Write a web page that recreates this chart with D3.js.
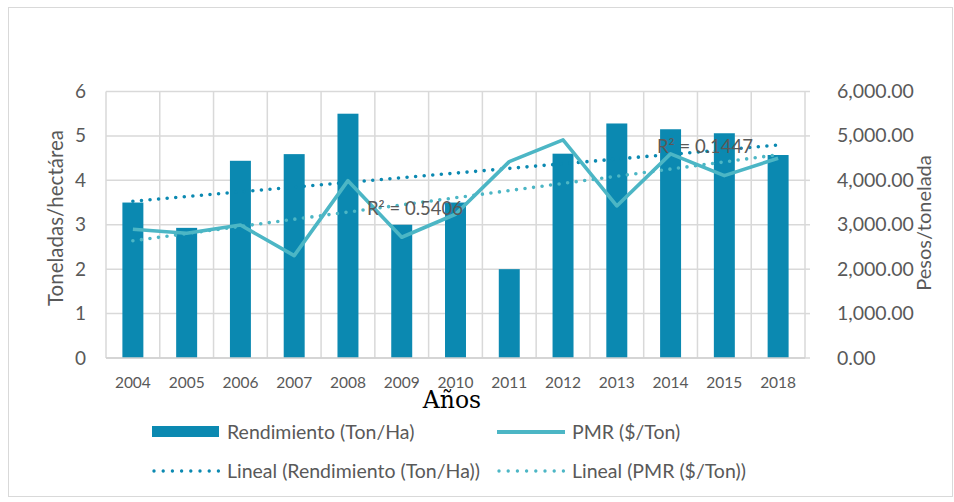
<!DOCTYPE html>
<html><head><meta charset="utf-8">
<script src="https://cdn.jsdelivr.net/npm/d3@7"></script>
<style>body{margin:0;background:#fff;}svg{display:block;}text{font-family:Lato,"Open Sans",sans-serif;fill:#595959;}</style>
</head><body><svg id="c" width="954" height="502"></svg>
<script>
const years = ["2004","2005","2006","2007","2008","2009","2010","2011","2012","2013","2014","2015","2018"];
const rendimiento = [3.5,2.93,4.44,4.59,5.5,3.0,3.5,2.0,4.6,5.28,5.15,5.06,4.57];
const pmr = [2898,2808,2995,2304,3993,2718,3236,4421,4910,3423,4595,4106,4497];
const leftTicks = [0,1,2,3,4,5,6];
const rightTicks = [0,1000,2000,3000,4000,5000,6000];
const r2Labels = ["R² = 0.5406","R² = 0.1447"];

const svg = d3.select("#c");
const m = {l:106, r:805, t:91.5, b:358};
svg.append("rect").attr("x",8.5).attr("y",7.5).attr("width",944).attr("height",489).attr("fill","#fff").attr("stroke","#d9d9d9");

const x = d3.scaleBand().domain(years).range([m.l,m.r]).paddingInner(0.61).paddingOuter(0.305);
const xb = d3.scaleBand().domain(years).range([m.l,m.r]);
const yL = d3.scaleLinear().domain([0,6]).range([m.b,m.t]);
const yR = d3.scaleLinear().domain([0,6000]).range([m.b,m.t]);

const g = svg.append("g");
g.selectAll(".hg").data(leftTicks).join("line").attr("x1",m.l).attr("x2",m.r).attr("y1",d=>yL(d)).attr("y2",d=>yL(d)).attr("stroke","#d9d9d9").attr("stroke-width",1.5);
const edges = years.map(d=>xb(d)).concat([m.r]);
g.selectAll(".vg").data(edges).join("line").attr("x1",d=>d).attr("x2",d=>d).attr("y1",m.t).attr("y2",m.b).attr("stroke","#d9d9d9").attr("stroke-width",1.5);
g.selectAll(".rt").data(rightTicks).join("line").attr("x1",m.r).attr("x2",m.r+5).attr("y1",d=>yR(d)).attr("y2",d=>yR(d)).attr("stroke","#d9d9d9").attr("stroke-width",1.5);

g.selectAll(".bar").data(rendimiento).join("rect")
 .attr("x",(d,i)=>x(years[i])).attr("width",x.bandwidth())
 .attr("y",d=>yL(d)).attr("height",d=>m.b-yL(d)).attr("fill","#0b89b1");

function reg(vals){const xs=vals.map((_,i)=>i+1);const mx=d3.mean(xs),my=d3.mean(vals);
 let sxy=0,sxx=0;xs.forEach((xi,i)=>{sxy+=(xi-mx)*(vals[i]-my);sxx+=(xi-mx)**2;});const b=sxy/sxx;return xs.map(xi=>my+b*(xi-mx));}
const trendR = reg(rendimiento), trendP = reg(pmr);
const cx = (d,i)=>xb(years[i])+xb.bandwidth()/2;

g.append("path").datum(trendP).attr("d",d3.line().x(cx).y(d=>yR(d))).attr("fill","none").attr("stroke","#4cb6c5").attr("stroke-width",3.6).attr("stroke-linecap","round").attr("stroke-dasharray","0 8.6");
g.append("path").datum(trendR).attr("d",d3.line().x(cx).y(d=>yL(d))).attr("fill","none").attr("stroke","#0b89b1").attr("stroke-width",3.6).attr("stroke-linecap","round").attr("stroke-dasharray","0 8.6");
g.append("path").datum(pmr).attr("d",d3.line().x(cx).y(d=>yR(d))).attr("fill","none").attr("stroke","#4cb6c5").attr("stroke-width",3.6).attr("stroke-linejoin","round");

g.append("line").attr("x1",m.l).attr("x2",m.r).attr("y1",m.b).attr("y2",m.b).attr("stroke","#d0d0d0").attr("stroke-width",1.5);

svg.append("text").attr("x",367).attr("y",215).attr("font-size",18.5).text(r2Labels[0]);
svg.append("text").attr("x",657).attr("y",153).attr("font-size",18.5).text(r2Labels[1]);

svg.selectAll(".lt").data(leftTicks).join("text").attr("x",86).attr("y",d=>yL(d)+6.5).attr("text-anchor","end").attr("font-size",19).text(d=>d);
svg.selectAll(".rtl").data(rightTicks).join("text").attr("x",837).attr("y",d=>yR(d)+6.5).attr("font-size",19.5).text(d=>d3.format(",.2f")(d));
svg.selectAll(".xt").data(years).join("text").attr("x",d=>xb(d)+xb.bandwidth()/2).attr("y",388).attr("text-anchor","middle").attr("font-size",15.5).text(d=>d);

svg.append("text").attr("transform","translate(63,218) rotate(-90)").attr("text-anchor","middle").attr("font-size",20.5).text("Toneladas/hectárea");
svg.append("text").attr("transform","translate(931,223) rotate(-90)").attr("text-anchor","middle").attr("font-size",20).text("Pesos/tonelada");
svg.append("text").attr("x",452).attr("y",408).attr("text-anchor","middle").attr("font-size",23.5).style("font-family","'DejaVu Serif',serif").style("fill","#000").text("Años");

const leg = svg.append("g");
const names = ["Rendimiento (Ton/Ha)","PMR ($/Ton)","Lineal (Rendimiento (Ton/Ha))","Lineal (PMR ($/Ton))"];
const lx = [152,497,152,497], ly=[432,432,471,471];
leg.append("rect").attr("x",lx[0]).attr("y",ly[0]-6).attr("width",67).attr("height",11).attr("fill","#0b89b1");
leg.append("line").attr("x1",lx[1]).attr("x2",lx[1]+68).attr("y1",ly[1]).attr("y2",ly[1]).attr("stroke","#4cb6c5").attr("stroke-width",4);
leg.append("line").attr("x1",lx[2]+2).attr("x2",lx[2]+67).attr("y1",ly[2]).attr("y2",ly[2]).attr("stroke","#0b89b1").attr("stroke-width",3.4).attr("stroke-linecap","round").attr("stroke-dasharray","0 9.2");
leg.append("line").attr("x1",lx[3]+2).attr("x2",lx[3]+67).attr("y1",ly[3]).attr("y2",ly[3]).attr("stroke","#4cb6c5").attr("stroke-width",3.4).attr("stroke-linecap","round").attr("stroke-dasharray","0 9.2");
names.forEach((n,i)=>leg.append("text").attr("x",lx[i]+75).attr("y",ly[i]+7).attr("font-size",19.5).text(n));
</script></body></html>
